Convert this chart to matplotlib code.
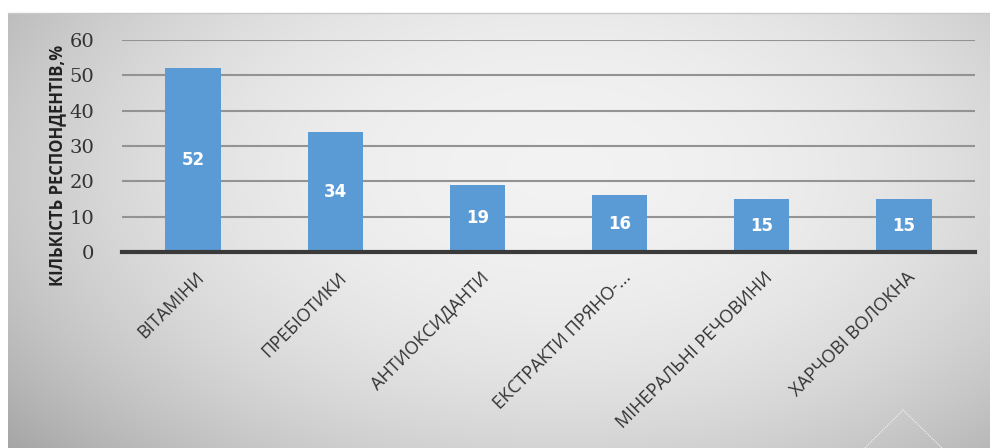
import numpy as np
import matplotlib
matplotlib.use("Agg")
import matplotlib.pyplot as plt
from matplotlib.transforms import ScaledTranslation

# Data
categories = ["ВІТАМІНИ", "ПРЕБІОТИКИ", "АНТИОКСИДАНТИ", "ЕКСТРАКТИ ПРЯНО-...",
              "МІНЕРАЛЬНІ РЕЧОВИНИ", "ХАРЧОВІ ВОЛОКНА"]
values = [52, 34, 19, 16, 15, 15]
yticks = [0, 10, 20, 30, 40, 50, 60]
ylabel = "КІЛЬКІСТЬ РЕСПОНДЕНТІВ,%"

W, H = 990, 448
fig = plt.figure(figsize=(W / 100, H / 100), dpi=100)
fig.patch.set_facecolor("white")

# radial grey gradient background panel
bg = fig.add_axes([0, 0, 1, 1])
bg.set_xlim(0, W)
bg.set_ylim(H, 0)
bg.axis("off")
xx, yy = np.meshgrid(np.linspace(8, W, 400), np.linspace(13, H, 200))
cx, cy = 560, 170
d = np.sqrt(((xx - cx) / 560) ** 2 + ((yy - cy) / 330) ** 2)
shade = 0.95 - 0.17 * np.clip(d, 0, 1.3) ** 2.2
img = np.dstack([shade, shade, shade])
bg.imshow(img, extent=[8, W, H, 13], aspect="auto", interpolation="bilinear")
bg.plot([8, W], [13.5, 13.5], color="#c8c8c8", lw=1)
bg.plot([865, 903, 942], [448, 410, 448], color="white", lw=0.8, ls=(0, (1, 1)), alpha=0.8)

ax = fig.add_axes([122 / W, 1 - 252 / H, (975 - 122) / W, (252 - 40) / H])
ax.set_facecolor("none")
x = np.arange(len(categories))
ax.bar(x, values, width=0.39, color="#5b9bd5", zorder=3)
for xi, v in zip(x, values):
    ax.text(xi, v / 2, str(v), ha="center", va="center", color="white",
            fontsize=12, fontweight="bold", family="DejaVu Sans", zorder=4)

ax.set_xlim(-0.5, len(categories) - 0.5)
ax.set_ylim(0, 60)
ax.set_yticks(yticks)
ax.yaxis.grid(True, color="#939393", lw=1.5, zorder=1)
ax.set_axisbelow(True)
for s in ["top", "right", "left"]:
    ax.spines[s].set_visible(False)
ax.spines["bottom"].set_color("#3a3a3a")
ax.spines["bottom"].set_linewidth(3)
ax.spines["bottom"].set_zorder(5)
ax.tick_params(axis="both", length=0)
ax.tick_params(axis="y", pad=20)
for lab in ax.get_yticklabels():
    lab.set_fontfamily("DejaVu Serif")
    lab.set_fontsize(14)
    lab.set_color("#333333")

ax.set_xticks(x)
ax.set_xticklabels(categories, rotation=45, ha="right", rotation_mode="anchor",
                   fontsize=13, family="Open Sans", color="#333333")
ax.tick_params(axis="x", pad=12)
for lab in ax.get_xticklabels():
    lab.set_transform(lab.get_transform() + ScaledTranslation(0.02, 0, fig.dpi_scale_trans))

ax.set_ylabel(ylabel, fontsize=12, fontweight="bold", family="Open Sans", color="#222222")
ax.yaxis.set_label_coords(-0.066, 0.41)

fig.savefig("out.png", dpi=100)
